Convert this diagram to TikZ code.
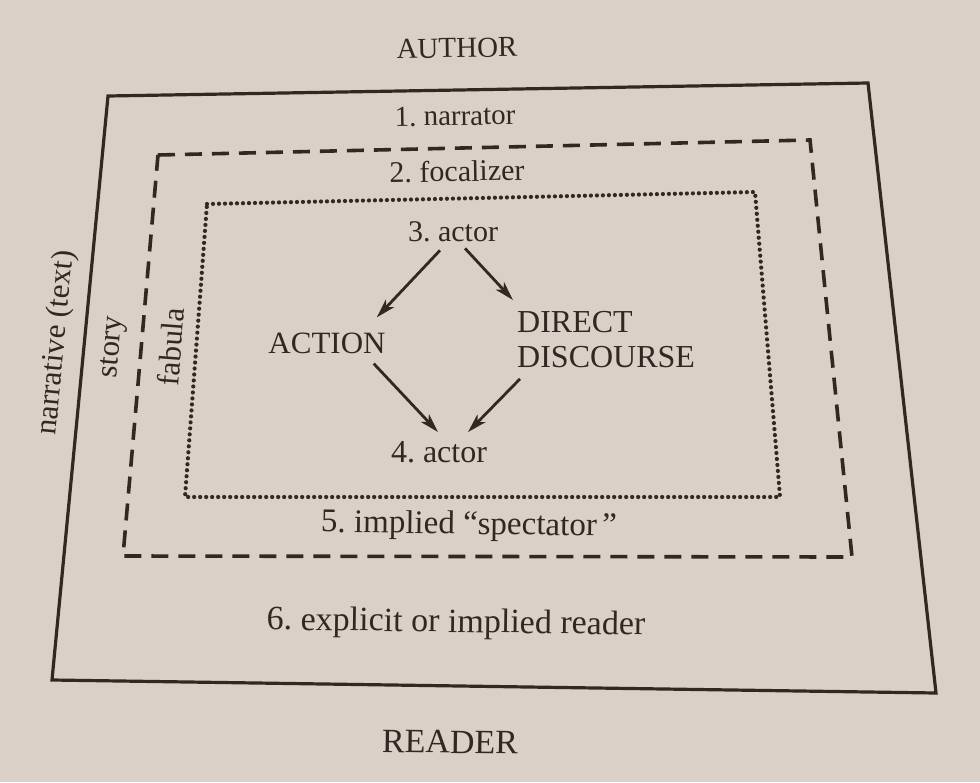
\documentclass[tikz,border=0pt]{standalone}
\usepackage{fontspec}
\setmainfont{Liberation Serif}
\usetikzlibrary{arrows.meta,calc}
\definecolor{paper}{RGB}{218,208,199}
\definecolor{ink}{RGB}{52,38,33}
\newcommand{\fs}[1]{\fontsize{#1}{#1}\selectfont\frenchspacing}
\tikzset{
  lbl/.style={inner sep=0pt, text=ink},
  solidbox/.style={draw=ink, line width=3.2pt, line join=miter},
  dashbox/.style={draw=ink, line width=3.6pt, dash pattern=on 17pt off 10pt},
  dotbox/.style={draw=ink, line width=4.2pt, line cap=round, dash pattern=on 0pt off 6pt},
  arr/.style={draw=ink, line width=2.8pt, -{Stealth[length=19pt,width=11pt,inset=5pt]}},
}
\begin{document}
\begin{tikzpicture}[x=1pt,y=-1pt]
\useasboundingbox (0,0) rectangle (980,782);
\fill[paper] (0,0) rectangle (980,782);
% boxes
\coordinate (o1) at (108,96); \coordinate (o2) at (868,83);
\coordinate (o3) at (936,693); \coordinate (o4) at (52,680);
\draw[solidbox] (o1) -- (o2) -- (o3) -- (o4) -- cycle;
\coordinate (d1) at (158,155); \coordinate (d2) at (810,140);
\coordinate (d3) at (852,557); \coordinate (d4) at (123,556);
\draw[dashbox] (d1) -- (d2) -- (d3) -- (d4) -- cycle;
\coordinate (f1) at (207,204); \coordinate (f2) at (755,192);
\coordinate (f3) at (780,497); \coordinate (f4) at (185,497);
\draw[dotbox] (f1) -- (f2) -- (f3) -- (f4) -- cycle;
% labels
\node[lbl, rotate=1, font=\fs{29}] (author) at (457,48) {AUTHOR};
\node[lbl, rotate=1, font=\fs{29}] (narr) at (455,116) {1. narrator};
\node[lbl, rotate=1, font=\fs{30}] (foc) at (457,171) {2. focalizer};
\node[lbl, font=\fs{30}] (a3) at (453,232) {3. actor};
\node[lbl, font=\fs{31}] (act) at (327,343) {ACTION};
\node[lbl, align=left, anchor=north west, font=\fs{32}] (dd) at (517,311) {DIRECT\\[3pt]DISCOURSE};
\node[lbl, font=\fs{32}] (a4) at (439,452) {4. actor};
\node[lbl, rotate=-0.8, font=\fs{33}] (spec) at (469,526) {5. implied “spectator\,”};
\node[lbl, rotate=-0.8, font=\fs{34}] (expl) at (456,624) {6. explicit or implied reader};
\node[lbl, rotate=-0.8, font=\fs{34}] (reader) at (450,742) {READER};
\node[lbl, rotate=84.5, font=\fs{31}] (narrative) at (57,343) {narrative (text)};
\node[lbl, rotate=85, font=\fs{31}] (story) at (114,347) {story};
\node[lbl, rotate=85.7, font=\fs{31}] (fabula) at (171,347) {fabula};
% arrows
\draw[arr] ($(a3.south)+(-13,8)$) -- ($(act.north east)+(-9,-15)$);
\draw[arr] ($(a3.south)+(12,6)$) -- ($(dd.north west)+(-4,-11)$);
\draw[arr] ($(act.south east)+(-12,10)$) -- ($(a4.north)+(-1,-9)$);
\draw[arr] ($(dd.south west)+(3,11)$) -- ($(a4.north)+(29,-9)$);
\end{tikzpicture}
\end{document}
